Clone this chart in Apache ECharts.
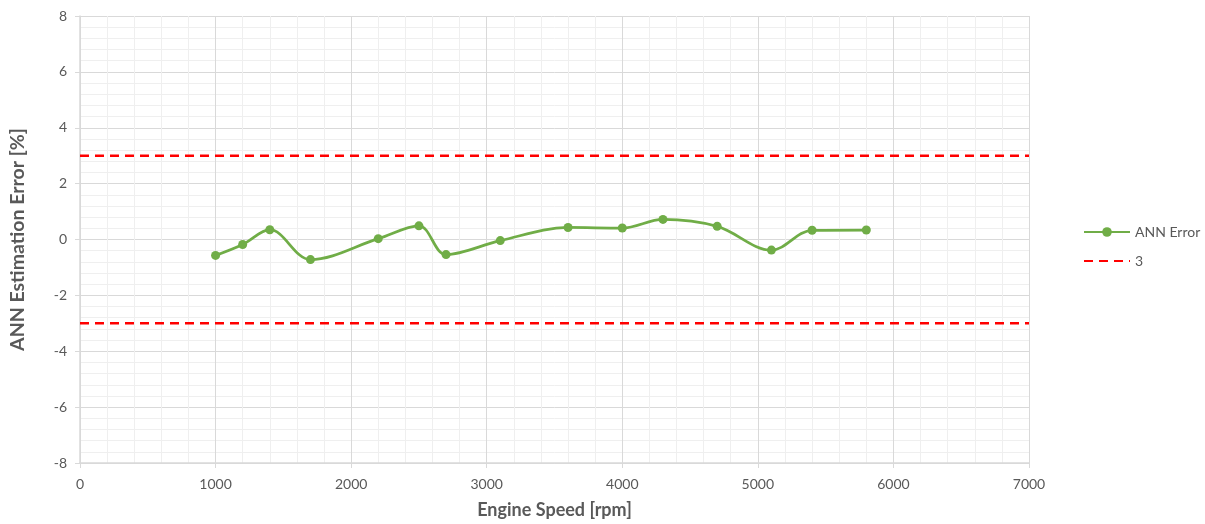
<!DOCTYPE html>
<html>
<head>
<meta charset="utf-8">
<script src="https://cdn.jsdelivr.net/npm/echarts@6/dist/echarts.min.js"></script>
<style>
  html, body { margin: 0; padding: 0; background: #fff; }
  #chart { width: 1205px; height: 524px; }
</style>
</head>
<body>
<div id="chart"></div>
<script>
// Engine speed samples [rpm] and ANN estimation error [%]
const engineSpeed = [1000, 1200, 1400, 1700, 2200, 2500, 2700, 3100, 3600, 4000, 4300, 4700, 5100, 5400, 5800];
const annError = [-0.57, -0.18, 0.35, -0.72, 0.03, 0.49, -0.54, -0.04, 0.43, 0.41, 0.72, 0.47, -0.38, 0.33, 0.34];
// Tolerance band [%]
const upperLimit = 3;
const lowerLimit = -3;
const speedRange = [0, 7000];

const FONT = 'Lato';
const TEXT = '#595959';

const chart = echarts.init(document.getElementById('chart'), null, { renderer: 'canvas' });

const errPoints = engineSpeed.map((s, i) => [s, annError[i]]);
const limitLine = v => speedRange.map(s => [s, v]);

chart.setOption({
  animation: false,
  backgroundColor: '#ffffff',
  textStyle: { fontFamily: FONT },
  grid: { left: 80, right: 176, top: 16, bottom: 57 },
  legend: {
    orient: 'vertical',
    left: 1078,
    top: 220,
    itemWidth: 46,
    itemHeight: 12,
    itemGap: 15,
    textStyle: { color: TEXT, fontSize: 14, fontFamily: FONT },
    data: [
      { name: 'ANN Error' },
      { name: '3', itemStyle: { opacity: 0 } }
    ]
  },
  xAxis: {
    type: 'value',
    min: 0,
    max: 7000,
    interval: 1000,
    name: 'Engine Speed [rpm]',
    nameLocation: 'middle',
    nameGap: 38,
    nameTextStyle: { color: TEXT, fontSize: 18, fontWeight: 'bold', fontFamily: FONT },
    axisLine: { onZero: false, lineStyle: { color: '#d9d9d9', width: 1.5 } },
    axisTick: { show: true, length: 5, lineStyle: { color: '#d9d9d9' } },
    axisLabel: { color: TEXT, fontSize: 14, margin: 14, fontFamily: FONT, formatter: v => String(v) },
    splitLine: { show: true, lineStyle: { color: '#d9d9d9', width: 1 } },
    minorTick: { show: false, splitNumber: 5 },
    minorSplitLine: { show: true, lineStyle: { color: '#efefef', width: 1 } }
  },
  yAxis: {
    type: 'value',
    min: -8,
    max: 8,
    interval: 2,
    name: 'ANN Estimation Error [%]',
    nameLocation: 'middle',
    nameGap: 52,
    nameTextStyle: { color: TEXT, fontSize: 19.5, fontWeight: 'bold', fontFamily: FONT },
    axisLine: { show: true, onZero: false, lineStyle: { color: '#d9d9d9', width: 1.5 } },
    axisTick: { show: true, length: 5, lineStyle: { color: '#d9d9d9' } },
    axisLabel: { color: TEXT, fontSize: 14, margin: 13, fontFamily: FONT },
    splitLine: { show: true, lineStyle: { color: '#d9d9d9', width: 1 } },
    minorTick: { show: false, splitNumber: 5 },
    minorSplitLine: { show: true, lineStyle: { color: '#efefef', width: 1 } }
  },
  series: [
    {
      name: 'ANN Error',
      type: 'line',
      data: errPoints,
      smooth: 0.35,
      symbol: 'circle',
      symbolSize: 9,
      lineStyle: { color: '#70ad47', width: 2.75 },
      itemStyle: { color: '#70ad47' },
      z: 3
    },
    {
      name: '3',
      type: 'line',
      data: limitLine(upperLimit),
      symbol: 'none',
      lineStyle: { color: '#ff0000', width: 2.5, type: [9, 6] },
      itemStyle: { color: '#ff0000' },
      z: 2
    },
    {
      name: '3',
      type: 'line',
      data: limitLine(lowerLimit),
      symbol: 'none',
      lineStyle: { color: '#ff0000', width: 2.5, type: [9, 6] },
      itemStyle: { color: '#ff0000' },
      z: 2
    }
  ]
});
</script>
</body>
</html>
